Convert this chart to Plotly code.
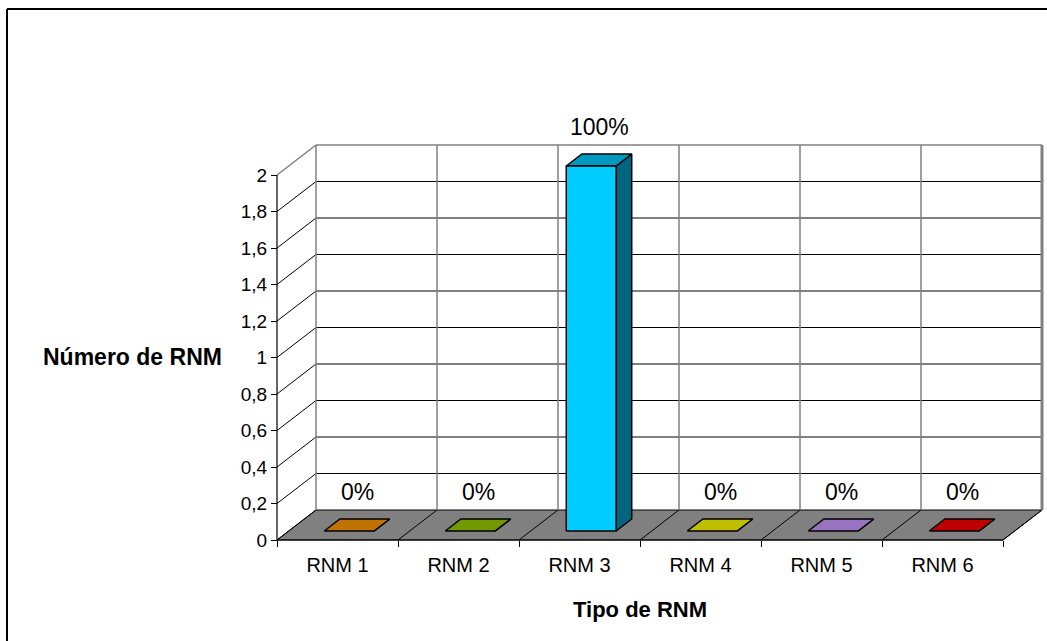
import plotly.graph_objects as go

# ---- data -------------------------------------------------------------
categories = ["RNM 1", "RNM 2", "RNM 3", "RNM 4", "RNM 5", "RNM 6"]
counts = [0, 0, 2, 0, 0, 0]
y_tick_values = [0, 0.2, 0.4, 0.6, 0.8, 1.0, 1.2, 1.4, 1.6, 1.8, 2.0]
y_tick_labels = ["0", "0,2", "0,4", "0,6", "0,8", "1", "1,2", "1,4", "1,6", "1,8", "2"]
x_title = "Tipo de RNM"
y_title = "Número de RNM"

# ---- style ------------------------------------------------------------
bar_colors = ["#FF9900", "#99CC00", "#00CCFF", "#FFFF00", "#CC99FF", "#FF0000"]
FONT = "Liberation Sans, Arial, sans-serif"
W, H = 1047, 641
PX_X = 121.0          # pixels per category
PX_Y = 182.5          # pixels per unit of count
ORIGIN_PX = (277, 540)
DX = 39 / PX_X        # depth of the 3-D box, in category units
DY = 30 / PX_Y        # depth of the 3-D box, in count units
HALF_W = 0.206        # half width of a column
FRONT, BACK = 0.3, 0.7  # column placement within the box depth
GREY = "#808080"
Y_MAX = y_tick_values[-1]
N = len(categories)


def shade(hex_color, k):
    h = hex_color.lstrip("#")
    r, g, b = (int(h[i:i + 2], 16) for i in (0, 2, 4))
    return f"rgb({round(r * k)},{round(g * k)},{round(b * k)})"


def poly(pts, fill, line_color="black", width=1.5):
    xs = [p[0] for p in pts] + [pts[0][0]]
    ys = [p[1] for p in pts] + [pts[0][1]]
    return go.Scatter(x=xs, y=ys, mode="lines", fill="toself", fillcolor=fill,
                      line=dict(color=line_color, width=width),
                      hoverinfo="skip", showlegend=False)


def segments(segs, color, width):
    xs, ys = [], []
    for (x0, y0), (x1, y1) in segs:
        xs += [x0, x1, None]
        ys += [y0, y1, None]
    return go.Scatter(x=xs, y=ys, mode="lines", line=dict(color=color, width=width),
                      hoverinfo="skip", showlegend=False)


fig = go.Figure()

# floor of the 3-D box
fig.add_trace(poly([(0, 0), (N, 0), (N + DX, DY), (DX, DY)], GREY, "black", 1))

# gridlines: back wall horizontals and side wall diagonals
grid = []
for v in y_tick_values[1:-1]:
    grid.append(((DX, v + DY), (N + DX, v + DY)))
    grid.append(((0, v), (DX, v + DY)))
# floor dividers and floor edges
for i in range(0, N + 1):
    grid.append(((i, 0), (i + DX, DY)))
fig.add_trace(segments(grid, "black", 1))

# wall outline and category dividers on the back wall
walls = [((DX, Y_MAX + DY), (N + DX, Y_MAX + DY)),
         ((0, Y_MAX), (DX, Y_MAX + DY))]
for i in range(0, N):
    walls.append(((i + DX, DY), (i + DX, Y_MAX + DY)))
fig.add_trace(segments(walls, GREY, 1.5))
fig.add_trace(segments([((N + DX, DY), (N + DX, Y_MAX + DY))], GREY, 3))

# axis lines
fig.add_trace(segments([((0, 0), (0, Y_MAX)), ((0, 0), (N, 0))], "black", 1.2))

# columns
fx, fy = FRONT * DX, FRONT * DY
bx, by = BACK * DX, BACK * DY
for i, (v, col) in enumerate(zip(counts, bar_colors)):
    cx = i + 0.5
    xl, xr = cx - HALF_W, cx + HALF_W
    side = [(xr + fx, fy), (xr + bx, by), (xr + bx, v + by), (xr + fx, v + fy)]
    top = [(xl + fx, v + fy), (xr + fx, v + fy), (xr + bx, v + by), (xl + bx, v + by)]
    front = [(xl + fx, fy), (xr + fx, fy), (xr + fx, v + fy), (xl + fx, v + fy)]
    fig.add_trace(poly(side, shade(col, 0.5)))
    fig.add_trace(poly(top, shade(col, 0.75)))
    if v > 0:
        fig.add_trace(poly(front, col))

# percentage labels above each column
total = sum(counts)
for i, v in enumerate(counts):
    pct = round(100 * v / total) if total else 0
    fig.add_annotation(x=i + 0.5 + 0.5 * DX, y=v + 0.5 * DY, xref="x", yref="y",
                       text=f"{pct}%", showarrow=False, yshift=33,
                       xanchor="center", yanchor="middle",
                       font=dict(family=FONT, size=23, color="black"))

# axis titles
fig.add_annotation(x=N / 2, y=1 - 609 / H, xref="x", yref="paper",
                   text=f"<b>{x_title}</b>", showarrow=False,
                   xanchor="center", yanchor="middle",
                   font=dict(family=FONT, size=22, color="black"))
fig.add_annotation(x=132.5 / W, y=1 - 357 / H, xref="paper", yref="paper",
                   text=f"<b>{y_title}</b>", showarrow=False,
                   xanchor="center", yanchor="middle",
                   font=dict(family=FONT, size=23, color="black"))

# chart frame (top and left edges)
fig.add_shape(type="line", xref="paper", yref="paper", x0=7 / W, x1=1.0,
              y0=1 - 9 / H, y1=1 - 9 / H, line=dict(color="black", width=2))
fig.add_shape(type="line", xref="paper", yref="paper", x0=7 / W, x1=7 / W,
              y0=0, y1=1 - 9 / H, line=dict(color="black", width=2))

x_range = [-ORIGIN_PX[0] / PX_X, (W - ORIGIN_PX[0]) / PX_X]
y_range = [-(H - ORIGIN_PX[1]) / PX_Y, ORIGIN_PX[1] / PX_Y]

fig.update_layout(
    width=W, height=H, autosize=False,
    margin=dict(l=0, r=0, t=0, b=0, pad=0),
    paper_bgcolor="white", plot_bgcolor="white",
    hovermode=False,
    font=dict(family=FONT, size=19, color="black"),
    xaxis=dict(range=x_range, anchor="free", position=(H - ORIGIN_PX[1]) / H,
               tickmode="array", tickvals=[i + 0.5 for i in range(N)],
               ticktext=categories, ticks="", showgrid=False, zeroline=False,
               showline=False, automargin=False, fixedrange=True,
               ticklabelstandoff=11,
               tickfont=dict(family=FONT, size=20, color="black"),
               minor=dict(tickmode="array", tickvals=list(range(N + 1)),
                          ticks="outside", ticklen=6, tickcolor="black",
                          tickwidth=1, showgrid=False)),
    yaxis=dict(range=y_range, anchor="free", position=ORIGIN_PX[0] / W,
               tickmode="array", tickvals=y_tick_values, ticktext=y_tick_labels,
               ticks="outside", ticklen=6, tickcolor="black", tickwidth=1,
               showgrid=False, zeroline=False, showline=False,
               automargin=False, fixedrange=True,
               tickfont=dict(family=FONT, size=19, color="black")),
)

fig.write_html("out.html")
